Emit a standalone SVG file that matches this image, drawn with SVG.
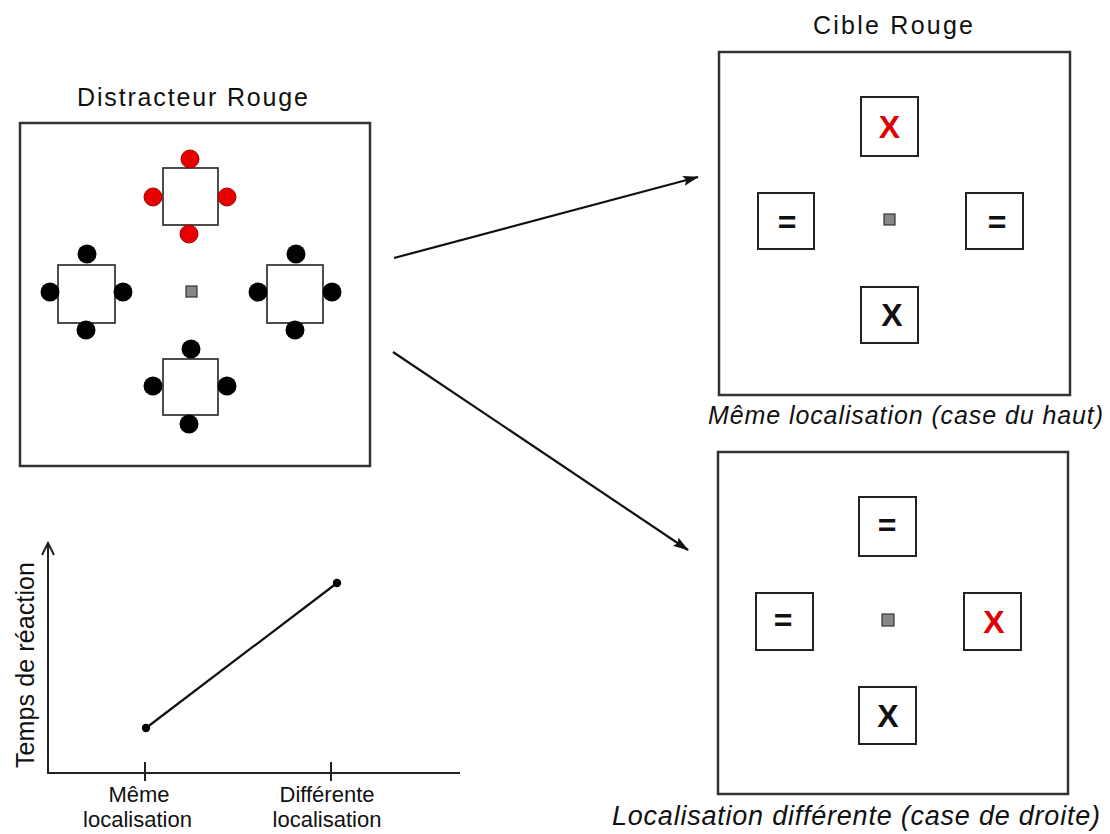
<svg xmlns="http://www.w3.org/2000/svg" width="1110" height="834" viewBox="0 0 1110 834">
<style>
text{font-family:"Liberation Sans",Arial,sans-serif;fill:#111}
.frame{fill:#fff;stroke:#333;stroke-width:2.5}
.sq{fill:#fff;stroke:#222;stroke-width:1.6}
.box{fill:#fff;stroke:#222;stroke-width:2}
.fix{fill:#888;stroke:#333;stroke-width:1.2}
.red{fill:#e80000;stroke:#a00000;stroke-width:1}
.blk{fill:#000}
.sym{font-weight:bold;font-size:32px;text-anchor:middle}
.sr{fill:#e00000}
.title{font-size:25px}
.cap{font-style:italic}
.axis{fill:none;stroke:#222;stroke-width:2}
.conn{fill:none;stroke:#111;stroke-width:2.2}
.xl{font-size:22px;text-anchor:middle}
</style>
<defs>
<marker id="ah" markerUnits="userSpaceOnUse" markerWidth="18" markerHeight="12" refX="15" refY="5" orient="auto">
<path d="M0,0 L16,5 L0,10 L3,5 z" fill="#111"/>
</marker>
</defs>
<rect width="1110" height="834" fill="#fff"/>

<g id="distracteur">
<text class="title" x="77" y="106" textLength="231" lengthAdjust="spacing">Distracteur Rouge</text>
<rect class="frame" x="20" y="123" width="350" height="343"/>
<rect class="sq" x="163" y="168" width="55" height="57"/>
<circle class="red" cx="190" cy="159" r="9"/>
<circle class="red" cx="153" cy="197" r="9"/>
<circle class="red" cx="227" cy="197" r="9"/>
<circle class="red" cx="189" cy="234" r="9"/>
<rect class="sq" x="58" y="265" width="57" height="58"/>
<circle class="blk" cx="87" cy="254" r="9.5"/>
<circle class="blk" cx="50" cy="292" r="9.5"/>
<circle class="blk" cx="123" cy="292" r="9.5"/>
<circle class="blk" cx="86" cy="330" r="9.5"/>
<rect class="sq" x="267" y="265" width="56" height="58"/>
<circle class="blk" cx="296" cy="254" r="9.5"/>
<circle class="blk" cx="258" cy="292" r="9.5"/>
<circle class="blk" cx="332" cy="292" r="9.5"/>
<circle class="blk" cx="295" cy="330" r="9.5"/>
<rect class="sq" x="163" y="359" width="55" height="56"/>
<circle class="blk" cx="191" cy="349" r="9.5"/>
<circle class="blk" cx="153" cy="386" r="9.5"/>
<circle class="blk" cx="227" cy="386" r="9.5"/>
<circle class="blk" cx="189" cy="424" r="9.5"/>
<rect class="fix" x="186" y="286" width="11" height="11"/>
</g>

<g id="cible-meme">
<text class="title" x="813" y="34" textLength="160" lengthAdjust="spacing">Cible Rouge</text>
<rect class="frame" x="719" y="52" width="351" height="343"/>
<rect class="box" x="861" y="97" width="57" height="59"/>
<text class="sym sr" x="889.5" y="138">X</text>
<rect class="box" x="758" y="193" width="56" height="56"/>
<text class="sym" x="787" y="233">=</text>
<rect class="box" x="966" y="193" width="57" height="56"/>
<text class="sym" x="997" y="233">=</text>
<rect class="box" x="861" y="287" width="57" height="56"/>
<text class="sym" x="892" y="326">X</text>
<rect class="fix" x="884" y="214" width="11" height="11"/>
<text class="title cap" x="708" y="424" textLength="395" lengthAdjust="spacing">Même localisation (case du haut)</text>
</g>

<g id="cible-differente">
<rect class="frame" x="718" y="452" width="350" height="342"/>
<rect class="box" x="859" y="497" width="57" height="59"/>
<text class="sym" x="887" y="536">=</text>
<rect class="box" x="756" y="593" width="57" height="57"/>
<text class="sym" x="783" y="631">=</text>
<rect class="box" x="964" y="593" width="57" height="57"/>
<text class="sym sr" x="994" y="633">X</text>
<rect class="box" x="859" y="687" width="57" height="57"/>
<text class="sym" x="888" y="727">X</text>
<rect class="fix" x="882" y="614" width="12" height="12"/>
<text class="cap" font-size="27" x="612" y="825" textLength="488" lengthAdjust="spacing">Localisation différente (case de droite)</text>
</g>

<g id="graphique">
<line class="axis" x1="48" y1="544" x2="48" y2="773"/>
<polyline class="axis" points="42,555 48,543 54,555" stroke-width="1.8"/>
<line class="axis" x1="47" y1="773" x2="460" y2="773"/>
<line class="axis" x1="145" y1="762" x2="145" y2="781"/>
<line class="axis" x1="331" y1="762" x2="331" y2="781"/>
<line x1="146" y1="728" x2="337" y2="583" stroke="#111" stroke-width="2.2"/>
<circle cx="146" cy="728" r="4.2" fill="#000"/>
<circle cx="337" cy="583" r="4.2" fill="#000"/>
<text font-size="25" transform="translate(34,768) rotate(-90)" textLength="206" lengthAdjust="spacing">Temps de réaction</text>
<text class="xl" x="139" y="802">Même</text>
<text class="xl" x="137.5" y="827">localisation</text>
<text class="xl" x="327" y="802">Différente</text>
<text class="xl" x="327" y="827">localisation</text>
</g>

<g id="connecteurs">
<line class="conn" x1="394" y1="258" x2="698" y2="177" marker-end="url(#ah)"/>
<line class="conn" x1="393" y1="352" x2="688" y2="550" marker-end="url(#ah)"/>
</g>
</svg>
